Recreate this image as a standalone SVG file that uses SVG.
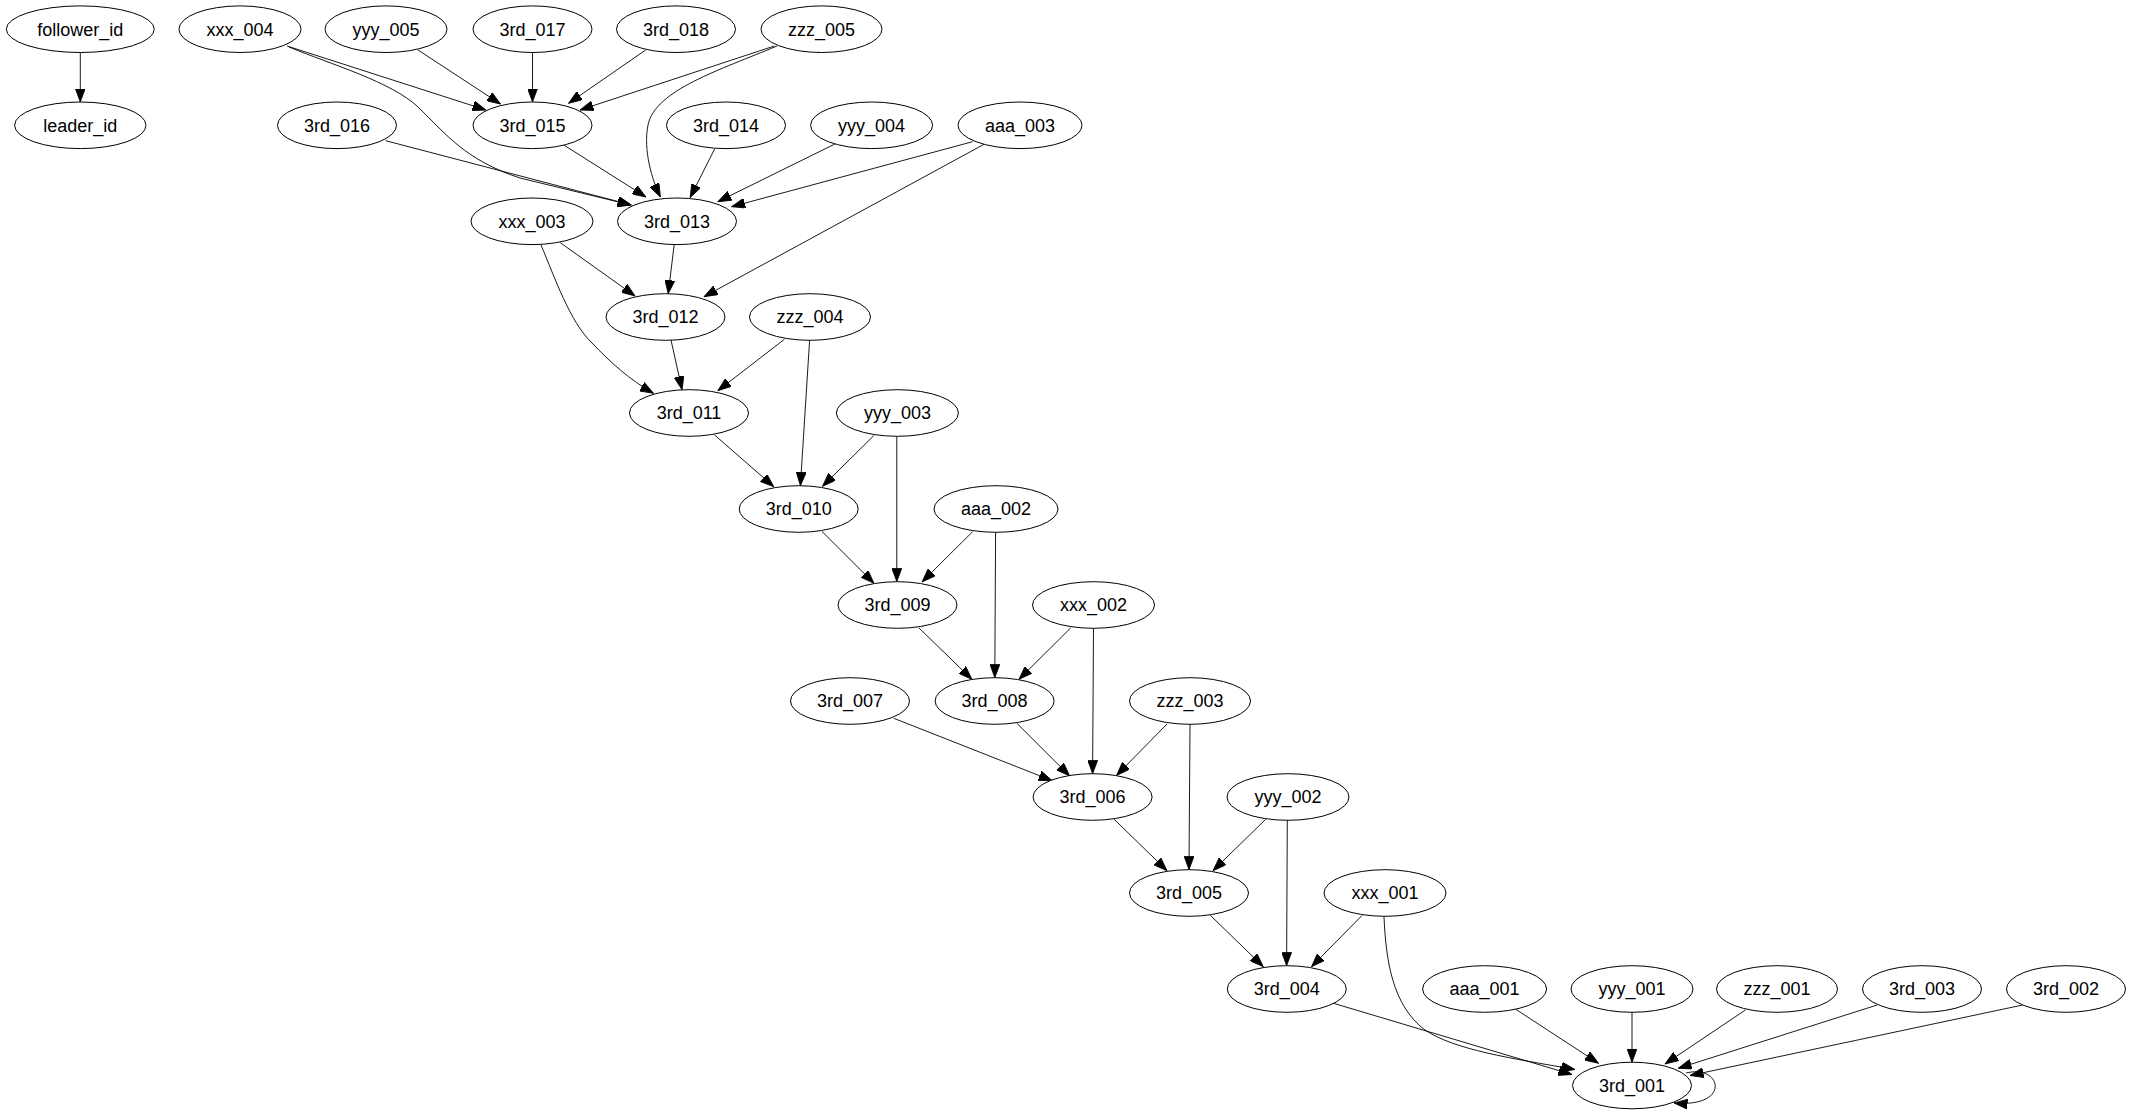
<svg xmlns="http://www.w3.org/2000/svg" width="2131" height="1115" viewBox="0 0 2131 1115">
<style>
.n ellipse{fill:#fff;stroke:#000;stroke-width:1}
.n text{font-family:"Liberation Sans",Arial,sans-serif;font-size:18px;text-anchor:middle;fill:#000}
#edges path{fill:none;stroke:#000;stroke-width:0.9;marker-end:url(#arr)}
</style>
<defs>
<marker id="arr" markerUnits="userSpaceOnUse" markerWidth="14" markerHeight="10" refX="13.5" refY="5" orient="auto">
<path d="M0,0 L13.5,5 L0,10 z" fill="#000" stroke="#000" stroke-width="0.8"/>
</marker>
</defs>
<rect width="2131" height="1115" fill="#fff"/>
<g id="edges">
<path d="M80.3,52.5 L80.3,102"/>
<path d="M287,46 L486,110"/>
<path d="M289,47 C330,64 392,82 418,107 C446,134 465,160 520,178 L631,205"/>
<path d="M418,50 L500.5,104"/>
<path d="M532.5,52.5 L532.5,102"/>
<path d="M645.7,50 L568.6,103.3"/>
<path d="M774.3,46 L580,110"/>
<path d="M777,46 C720,70 655,90 648,125 C643,150 652,180 660.4,197"/>
<path d="M385.7,140.7 L631.3,205"/>
<path d="M563.8,145 L646,197"/>
<path d="M714.6,149 L690.2,197.5"/>
<path d="M834.9,144 L717.8,201.7"/>
<path d="M972.6,141.7 L731.6,206.7"/>
<path d="M984,144.3 L704,296.7"/>
<path d="M560.3,242.7 L635.1,296"/>
<path d="M541,245 C555,278 570,322 592,343 C610,362 630,380 653.5,393.3"/>
<path d="M674.2,244.5 L668.2,293.7"/>
<path d="M671,340 L682,389.7"/>
<path d="M784.4,339.3 L717.8,390.7"/>
<path d="M809.6,340.3 L800.4,485.7"/>
<path d="M714.6,435 L773.8,486.7"/>
<path d="M873.9,435.5 L822.5,486.3"/>
<path d="M896.8,436.3 L896.8,581.7"/>
<path d="M822,531.5 L874,583.3"/>
<path d="M972.6,531.7 L922,582"/>
<path d="M995.6,532.3 L994.8,677.7"/>
<path d="M919,628 L971.9,679.3"/>
<path d="M1070.6,628 L1019,679.3"/>
<path d="M1093.5,628.3 L1092.6,773.7"/>
<path d="M893.8,718.3 L1052.2,780.7"/>
<path d="M1016.9,723.3 L1069.7,776"/>
<path d="M1167,724 L1116.5,775.5"/>
<path d="M1190,724.3 L1189,869.7"/>
<path d="M1114.2,819.3 L1167,870.7"/>
<path d="M1265.7,819.3 L1213,870.7"/>
<path d="M1287.3,820.3 L1286.6,965.7"/>
<path d="M1210.5,915.5 L1263.3,966.7"/>
<path d="M1362,915.5 L1311.5,966.7"/>
<path d="M1384,917 C1386,960 1392,1005 1425,1030 C1455,1050 1510,1058 1575,1069.5"/>
<path d="M1333.5,1003.3 L1572,1074.5"/>
<path d="M1515.8,1009.3 L1598.5,1063.3"/>
<path d="M1632,1012.3 L1632,1062.2"/>
<path d="M1745.4,1010 L1665,1064"/>
<path d="M1877.2,1005 L1678.2,1068.3"/>
<path d="M2022.7,1005 L1690,1075.5"/>
<path d="M1686,1073 C1722,1064 1732,1108 1674,1103"/>
</g>
<g id="n_follower_id" class="n"><ellipse cx="80.3" cy="29.2" rx="74" ry="23.3"/><text x="80.3" y="35.5">follower_id</text></g>
<g id="n_xxx_004" class="n"><ellipse cx="240" cy="29.2" rx="61" ry="23.3"/><text x="240" y="35.5">xxx_004</text></g>
<g id="n_yyy_005" class="n"><ellipse cx="386" cy="29.2" rx="61" ry="23.3"/><text x="386" y="35.5">yyy_005</text></g>
<g id="n_3rd_017" class="n"><ellipse cx="532.5" cy="29.2" rx="59.5" ry="23.3"/><text x="532.5" y="35.5">3rd_017</text></g>
<g id="n_3rd_018" class="n"><ellipse cx="676" cy="29.2" rx="59.5" ry="23.3"/><text x="676" y="35.5">3rd_018</text></g>
<g id="n_zzz_005" class="n"><ellipse cx="821.5" cy="29.2" rx="60.5" ry="23.3"/><text x="821.5" y="35.5">zzz_005</text></g>
<g id="n_leader_id" class="n"><ellipse cx="80.3" cy="125.3" rx="65.7" ry="23.3"/><text x="80.3" y="131.6">leader_id</text></g>
<g id="n_3rd_016" class="n"><ellipse cx="337" cy="125.3" rx="59.5" ry="23.3"/><text x="337" y="131.6">3rd_016</text></g>
<g id="n_3rd_015" class="n"><ellipse cx="532.5" cy="125.3" rx="59.5" ry="23.3"/><text x="532.5" y="131.6">3rd_015</text></g>
<g id="n_3rd_014" class="n"><ellipse cx="726" cy="125.3" rx="59.5" ry="23.3"/><text x="726" y="131.6">3rd_014</text></g>
<g id="n_yyy_004" class="n"><ellipse cx="871.6" cy="125.3" rx="61" ry="23.3"/><text x="871.6" y="131.6">yyy_004</text></g>
<g id="n_aaa_003" class="n"><ellipse cx="1020" cy="125.3" rx="62" ry="23.3"/><text x="1020" y="131.6">aaa_003</text></g>
<g id="n_xxx_003" class="n"><ellipse cx="532" cy="221.3" rx="61" ry="23.3"/><text x="532" y="227.6">xxx_003</text></g>
<g id="n_3rd_013" class="n"><ellipse cx="677" cy="221.3" rx="59.5" ry="23.3"/><text x="677" y="227.6">3rd_013</text></g>
<g id="n_3rd_012" class="n"><ellipse cx="665.5" cy="317" rx="59.5" ry="23.3"/><text x="665.5" y="323.3">3rd_012</text></g>
<g id="n_zzz_004" class="n"><ellipse cx="810" cy="317" rx="60.5" ry="23.3"/><text x="810" y="323.3">zzz_004</text></g>
<g id="n_3rd_011" class="n"><ellipse cx="689" cy="413" rx="59.5" ry="23.3"/><text x="689" y="419.3">3rd_011</text></g>
<g id="n_yyy_003" class="n"><ellipse cx="897.4" cy="413" rx="61" ry="23.3"/><text x="897.4" y="419.3">yyy_003</text></g>
<g id="n_3rd_010" class="n"><ellipse cx="798.7" cy="509" rx="59.5" ry="23.3"/><text x="798.7" y="515.3">3rd_010</text></g>
<g id="n_aaa_002" class="n"><ellipse cx="996" cy="509" rx="62" ry="23.3"/><text x="996" y="515.3">aaa_002</text></g>
<g id="n_3rd_009" class="n"><ellipse cx="897.5" cy="605" rx="59.5" ry="23.3"/><text x="897.5" y="611.3">3rd_009</text></g>
<g id="n_xxx_002" class="n"><ellipse cx="1093.5" cy="605" rx="61" ry="23.3"/><text x="1093.5" y="611.3">xxx_002</text></g>
<g id="n_3rd_007" class="n"><ellipse cx="850" cy="701" rx="59.5" ry="23.3"/><text x="850" y="707.3">3rd_007</text></g>
<g id="n_3rd_008" class="n"><ellipse cx="994.6" cy="701" rx="59.5" ry="23.3"/><text x="994.6" y="707.3">3rd_008</text></g>
<g id="n_zzz_003" class="n"><ellipse cx="1190" cy="701" rx="60.5" ry="23.3"/><text x="1190" y="707.3">zzz_003</text></g>
<g id="n_3rd_006" class="n"><ellipse cx="1092.6" cy="797" rx="59.5" ry="23.3"/><text x="1092.6" y="803.3">3rd_006</text></g>
<g id="n_yyy_002" class="n"><ellipse cx="1288" cy="797" rx="61" ry="23.3"/><text x="1288" y="803.3">yyy_002</text></g>
<g id="n_3rd_005" class="n"><ellipse cx="1189" cy="893" rx="59.5" ry="23.3"/><text x="1189" y="899.3">3rd_005</text></g>
<g id="n_xxx_001" class="n"><ellipse cx="1385" cy="893" rx="61" ry="23.3"/><text x="1385" y="899.3">xxx_001</text></g>
<g id="n_3rd_004" class="n"><ellipse cx="1286.8" cy="989" rx="59.5" ry="23.3"/><text x="1286.8" y="995.3">3rd_004</text></g>
<g id="n_aaa_001" class="n"><ellipse cx="1484.6" cy="989" rx="62" ry="23.3"/><text x="1484.6" y="995.3">aaa_001</text></g>
<g id="n_yyy_001" class="n"><ellipse cx="1632" cy="989" rx="61" ry="23.3"/><text x="1632" y="995.3">yyy_001</text></g>
<g id="n_zzz_001" class="n"><ellipse cx="1777" cy="989" rx="60.5" ry="23.3"/><text x="1777" y="995.3">zzz_001</text></g>
<g id="n_3rd_003" class="n"><ellipse cx="1922" cy="989" rx="59.5" ry="23.3"/><text x="1922" y="995.3">3rd_003</text></g>
<g id="n_3rd_002" class="n"><ellipse cx="2066" cy="989" rx="59.5" ry="23.3"/><text x="2066" y="995.3">3rd_002</text></g>
<g id="n_3rd_001" class="n"><ellipse cx="1632" cy="1085.5" rx="59.5" ry="23.3"/><text x="1632" y="1091.8">3rd_001</text></g>
</svg>
